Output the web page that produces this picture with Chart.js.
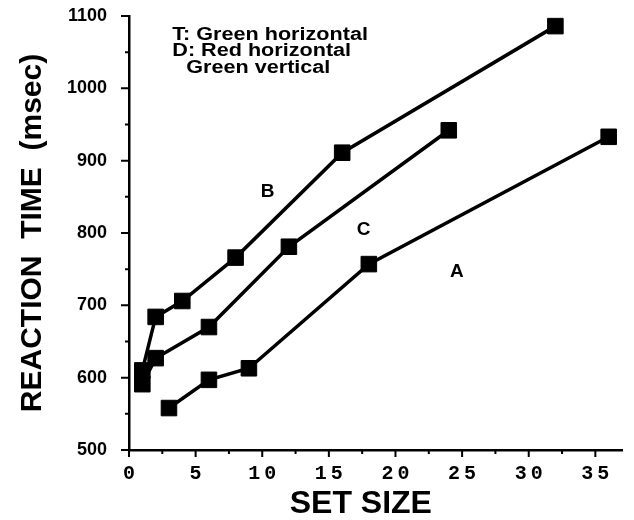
<!DOCTYPE html>
<html>
<head>
<meta charset="utf-8">
<script src="https://cdn.jsdelivr.net/npm/chart.js@4/dist/chart.umd.min.js"></script>
<style>
    body { margin: 0; background: #fff; }
    canvas { display: block; }
</style>
</head>
<body>
<canvas id="rtChart" width="634" height="520"></canvas>
<script>
    // Set sizes and reaction times (msec) for each condition
    const setSizeA = [3, 6, 9, 18, 36];
    const rtA = [558, 597, 613, 757, 933];
    const setSizeB = [1, 2, 4, 8, 16, 32];
    const rtB = [610, 684, 706, 766, 911, 1086];
    const setSizeC = [1, 2, 6, 12, 24];
    const rtC = [591, 627, 670, 781, 942];

    // Axis ticks
    const xTicks = [0, 5, 10, 15, 20, 25, 30, 35];
    const yTicks = [500, 600, 700, 800, 900, 1000, 1100];

    const legendLines = ["T: Green horizontal", "D: Red horizontal", "Green vertical"];
    const curveNames = ["A", "B", "C"];
    const xTitle = "SET SIZE";

    const sans = "'Liberation Sans', Arial, sans-serif";
    const mono = "'Liberation Mono', 'Courier New', monospace";

    function toPoints(xs, ys) {
        return xs.map((x, i) => ({ x: x, y: ys[i] }));
    }

    function lineSet(label, xs, ys) {
        return {
            label: label,
            data: toPoints(xs, ys),
            borderColor: "#000",
            borderWidth: 3.5,
            tension: 0,
            pointStyle: "rect",
            pointRadius: 11,
            pointBorderWidth: 1,
            pointBorderColor: "#000",
            pointBackgroundColor: "#000",
        };
    }

    // Major and minor tick marks drawn on the outside of the axes,
    // plus the widely spaced typewriter labels of the x axis
    const tickMarks = {
        id: "tickMarks",
        afterDraw(chart) {
            const { ctx, scales } = chart;
            const xs = scales.x, ys = scales.y;
            const axisY = ys.getPixelForValue(500);
            const axisX = xs.getPixelForValue(0);
            ctx.save();
            ctx.strokeStyle = "#000";
            ctx.lineWidth = 2;
            ctx.beginPath();
            for (let v = 0; v <= 37; v += 2.5) {
                const px = xs.getPixelForValue(v);
                const len = v % 5 === 0 ? 7 : 4;
                ctx.moveTo(px, axisY);
                ctx.lineTo(px, axisY + len);
            }
            for (let v = 500; v <= 1100; v += 50) {
                const py = ys.getPixelForValue(v);
                const len = v % 100 === 0 ? 8 : 4;
                ctx.moveTo(axisX, py);
                ctx.lineTo(axisX - len, py);
            }
            ctx.stroke();

            const spacing = 4;
            ctx.fillStyle = "#000";
            ctx.font = "bold 20px " + mono;
            ctx.letterSpacing = spacing + "px";
            ctx.textAlign = "center";
            ctx.textBaseline = "middle";
            xTicks.forEach((v) => {
                // letter spacing is added after the last digit too, so nudge back
                ctx.fillText(String(v), xs.getPixelForValue(v) + spacing / 2, axisY + 24);
            });
            ctx.restore();
        }
    };

    // Curve letters, the stimulus note in the upper left and the x title
    const notes = {
        id: "notes",
        afterDraw(chart) {
            const { ctx, scales, chartArea } = chart;
            const xs = scales.x, ys = scales.y;
            ctx.save();
            ctx.fillStyle = "#000";
            ctx.textBaseline = "middle";

            ctx.font = "bold 18px " + sans;
            const legendX = [3.25, 3.25, 4.3];
            const legendY = [1074, 1051, 1028];
            legendLines.forEach((t, i) => {
                ctx.save();
                ctx.translate(xs.getPixelForValue(legendX[i]), ys.getPixelForValue(legendY[i]));
                ctx.scale(1.2, 1);
                ctx.textAlign = "left";
                ctx.fillText(t, 0, 0);
                ctx.restore();
            });

            ctx.font = "bold 19px " + sans;
            ctx.textAlign = "center";
            const nameX = [24.6, 10.4, 17.6];
            const nameY = [746, 857, 804];
            curveNames.forEach((n, i) => {
                ctx.fillText(n, xs.getPixelForValue(nameX[i]), ys.getPixelForValue(nameY[i]));
            });

            // x axis title sits a little left of the plot centre
            ctx.font = "bold 32px " + sans;
            ctx.fillText(xTitle, xs.getPixelForValue(17.4), chartArea.bottom + 54);
            ctx.restore();
        }
    };

    const ctx = document.getElementById("rtChart").getContext("2d");
    new Chart(ctx, {
        type: "line",
        data: {
            datasets: [
                lineSet("A", setSizeA, rtA),
                lineSet("B", setSizeB, rtB),
                lineSet("C", setSizeC, rtC),
            ],
        },
        options: {
            responsive: false,
            animation: false,
            layout: {
                padding: { left: 0, right: 6, top: 16, bottom: 0 },
            },
            plugins: {
                legend: { display: false },
                tooltip: { enabled: false },
            },
            scales: {
                x: {
                    type: "linear",
                    min: 0,
                    max: 37,
                    afterFit: (scale) => { scale.height = 70; },
                    afterBuildTicks: (scale) => {
                        scale.ticks = xTicks.map((v) => ({ value: v }));
                    },
                    grid: { display: false },
                    border: { display: true, color: "#000", width: 2.5 },
                    ticks: { display: false },
                    title: { display: false },
                },
                y: {
                    min: 500,
                    max: 1100,
                    afterFit: (scale) => {
                        scale.width = 129;
                        scale.paddingTop = 0;
                        scale.paddingBottom = 0;
                    },
                    afterBuildTicks: (scale) => {
                        scale.ticks = yTicks.map((v) => ({ value: v }));
                    },
                    grid: { display: false },
                    border: { display: true, color: "#000", width: 2.5 },
                    ticks: {
                        padding: 14,
                        color: "#000",
                        font: { family: sans, size: 18, weight: "bold" },
                        callback: (v) => String(v),
                    },
                    title: {
                        display: true,
                        text: "REACTION  TIME  (msec)",
                        color: "#000",
                        padding: { top: 15, bottom: 0 },
                        font: { family: sans, size: 30, weight: "bold", lineHeight: 1.2 },
                    },
                },
            },
        },
        plugins: [tickMarks, notes],
    });
</script>
</body>
</html>
